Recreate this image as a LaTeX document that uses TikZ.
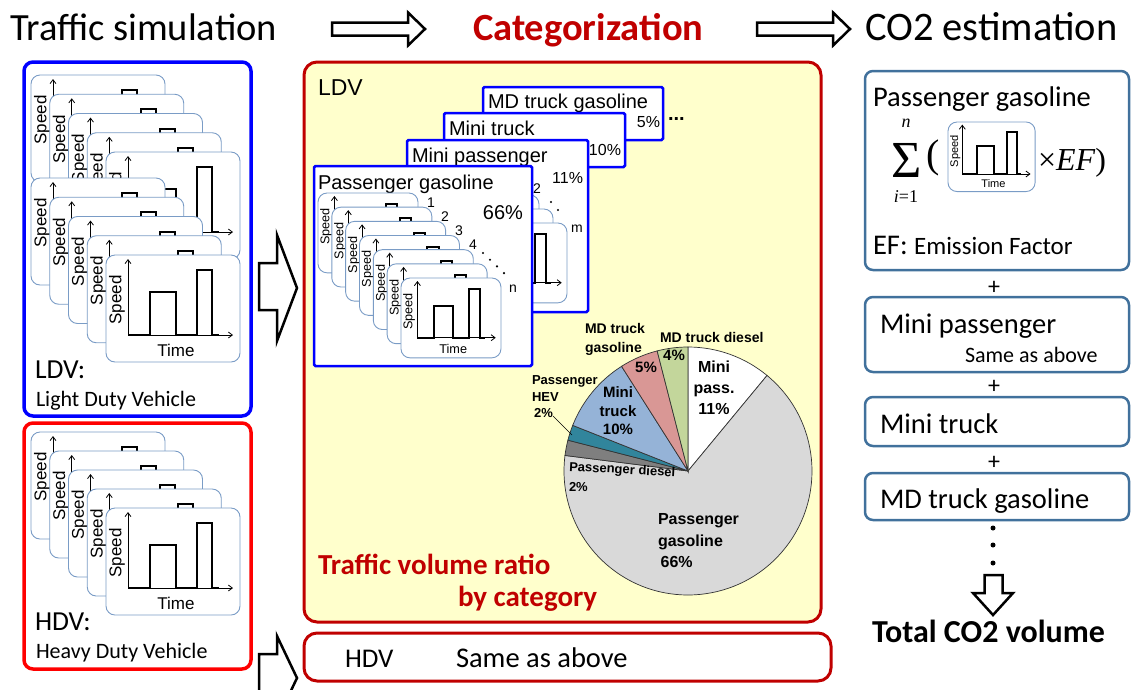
\documentclass[tikz,border=0pt]{standalone}
\usepackage[no-math]{fontspec}
\setmainfont{Carlito}
\newfontfamily\arialfont{Liberation Sans}
\newfontfamily\timesfont{Liberation Serif}
\usetikzlibrary{arrows.meta}
\definecolor{ldvblue}{HTML}{0000FF}
\definecolor{hdvred}{HTML}{FF0000}
\definecolor{catred}{HTML}{C00000}
\definecolor{catfill}{HTML}{FFFFCC}
\definecolor{cardline}{HTML}{7A9CC6}
\definecolor{estline}{HTML}{41719C}
\definecolor{pgasgray}{HTML}{D9D9D9}
\definecolor{pdslgray}{HTML}{7F7F7F}
\definecolor{hevteal}{HTML}{31859C}
\definecolor{mtrkblue}{HTML}{95B3D7}
\definecolor{mdgaspink}{HTML}{D99795}
\definecolor{mddslgreen}{HTML}{C3D69B}

% speed-time chart card without labels, top left corner at (#1,#2), scaled by #3
\newcommand{\speedchart}[3]{%
  \begin{scope}[shift={(#1,#2)}, scale=#3, transform shape]
    \draw[cardframe] (0,0) rectangle (134,107);
    \draw[axisline] (22,80) -- (22,4);
    \draw[axisline] (22,80) -- (127,80);
    \draw[profile] (22,80) -- (44,80) -- (44,37) -- (70,37) -- (70,80) -- (91,80) -- (91,15) -- (106,15) -- (106,80) -- (113,80);
  \end{scope}}
% same card with its axis labels
\newcommand{\speedcard}[3]{%
  \speedchart{#1}{#2}{#3}
  \begin{scope}[shift={(#1,#2)}, scale=#3, transform shape]
    \node[cardtext, rotate=90] (spd) at (11,45) {Speed};
    \node[cardtext] (tim) at (70,95) {Time};
  \end{scope}}

\begin{document}
\begin{tikzpicture}[x=1pt, y=-1pt,
    every node/.style={inner sep=0pt, outer sep=0pt},
    heading/.style={anchor=base west, font=\fontsize{38.5}{38.5}\selectfont},
    cardframe/.style={draw=cardline, line width=0.9pt, fill=white, rounded corners=9pt},
    axisline/.style={line width=0.8pt, -{Straight Barb[length=4pt, width=6pt]}},
    profile/.style={line width=2pt},
    cardtext/.style={font=\arialfont\fontsize{17}{17}\selectfont},
    simframe/.style={line width=3.5pt, rounded corners=9pt, minimum width=227pt, anchor=north west},
    catframe/.style={draw=catred, line width=3pt, rounded corners=13pt, anchor=north west},
    catcard/.style={draw=ldvblue, line width=2.5pt, fill=white, rounded corners=1.5pt, anchor=north west},
    estbox/.style={draw=estline, line width=2.5pt, rounded corners=8pt, anchor=north west, minimum width=264pt},
    blockarrow/.style={draw, line width=2.5pt, fill=white, line join=miter},
    arialtext/.style={anchor=base west, font=\arialfont\fontsize{20}{20}\selectfont},
    smallnum/.style={anchor=base west, font=\arialfont\fontsize{14}{14}\selectfont},
    pielabel/.style={font=\arialfont\bfseries\fontsize{14}{19}\selectfont},
    pieslice/.style={draw=black!80, line width=0.7pt},
    esttext/.style={anchor=base west, font=\fontsize{28.5}{28.5}\selectfont},
    dot/.style={circle, fill, minimum size=#1}
]
\useasboundingbox (0,0) rectangle (1132,689);
\clip (0,0) rectangle (1132,689);

% Headings
\node[heading] (tsim) at (10,40) {Traffic simulation};
\node[heading, font=\bfseries\fontsize{38.5}{38.5}\selectfont, text=catred] (tcat) at (473,40) {Categorization};
\node[heading, font=\fontsize{40.5}{40.5}\selectfont] (tco2) at (865,40) {CO2 estimation};
\draw[blockarrow] (332,22.5) -- (408,22.5) -- (408,12.5) -- (425,29) -- (408,45.5) -- (408,35.5) -- (332,35.5) -- cycle;
\draw[blockarrow] (757,22.5) -- (833,22.5) -- (833,12.5) -- (850,29) -- (833,45.5) -- (833,35.5) -- (757,35.5) -- cycle;

% Traffic simulation
\node[simframe, draw=ldvblue, minimum height=354pt] (ldvsim) at (24,62) {};
\node[simframe, draw=hdvred, minimum height=246pt] (hdvsim) at (24,423) {};
\foreach \k in {0,...,4} {\speedcard{31+18.75*\k}{75+19.25*\k}{1}}
\foreach \k in {0,...,4} {\speedcard{31+18.75*\k}{178+19.25*\k}{1}}
\foreach \k in {0,...,4} {\speedcard{31+18.75*\k}{432+19*\k}{1}}
\node[anchor=base west, font=\fontsize{27.5}{27.5}\selectfont] (ldvname) at (35,378) {LDV:};
\node[anchor=base west, font=\fontsize{22}{22}\selectfont] (ldvlong) at (36,406) {Light Duty Vehicle};
\node[anchor=base west, font=\fontsize{27.5}{27.5}\selectfont] (hdvname) at (35,630) {HDV:};
\node[anchor=base west, font=\fontsize{22}{22}\selectfont] (hdvlong) at (36,658) {Heavy Duty Vehicle};

\draw[blockarrow] (259,263) -- (277,263) -- (277,235) -- (297,288) -- (277,341) -- (277,310) -- (259,310) -- cycle;
\draw[blockarrow] (259,654) -- (277,654) -- (277,636) -- (297,678) -- (277,720) -- (277,700) -- (259,700) -- cycle;

% Categorization
\node[catframe, fill=catfill, minimum width=517pt, minimum height=560pt] (ldvcat) at (304,62) {};
\node[catframe, fill=white, minimum width=527pt, minimum height=48pt] (hdvcat) at (304,633) {};
\node[arialtext, font=\arialfont\fontsize{23}{23}\selectfont] (ldvtag) at (318,95) {LDV};
\node[anchor=base west, font=\fontsize{27}{27}\selectfont] (hdvtag) at (345,667) {HDV};
\node[anchor=base west, font=\fontsize{28.5}{28.5}\selectfont] (hdvsame) at (456,667) {Same as above};

\node[catcard, minimum width=180pt, minimum height=53pt] (mdgas) at (483,87) {};
\node[arialtext] (mdgasname) at (488,108) {MD truck gasoline};
\node[arialtext, anchor=base east, font=\arialfont\fontsize{16}{16}\selectfont] (mdgaspct) at (660,127) {5\%};
\node[anchor=base west, font=\arialfont\bfseries\fontsize{20}{20}\selectfont] (more) at (668,120) {...};

\node[catcard, minimum width=181pt, minimum height=54pt] (mtrk) at (444,113) {};
\node[arialtext] (mtrkname) at (449,135) {Mini truck};
\node[arialtext, anchor=base east, font=\arialfont\fontsize{16}{16}\selectfont] (mtrkpct) at (621,155) {10\%};

\node[catcard, minimum width=181pt, minimum height=172pt] (mpas) at (407,140) {};
\node[arialtext] (mpasname) at (412,162) {Mini passenger};
\node[arialtext, anchor=base east, font=\arialfont\fontsize{16}{16}\selectfont] (mpaspct) at (583,183) {11\%};
\foreach \k in {0,...,2} {\speedchart{439+14*\k}{195+14*\k}{0.746}}
\node[smallnum] (mpas2) at (533,193) {2};
\node[dot=2.4pt] (mpasdot1) at (551,202) {};
\node[dot=2.4pt] (mpasdot2) at (558,210) {};
\node[smallnum] (mpasm) at (571,232) {m};

\node[catcard, minimum width=218pt, minimum height=200pt] (pgas) at (314,166) {};
\node[arialtext] (pgasname) at (318,189) {Passenger gasoline};
\node[arialtext, anchor=base east] (pgaspct) at (523,219) {66\%};
\foreach \k in {0,...,6} {\speedcard{318+13.83*\k}{193+14.17*\k}{0.746}}
\foreach \k in {1,...,4} {\node[smallnum] (pgasnum\k) at (413+14*\k,193+14*\k) {\k};}
\foreach \k in {0,...,3} {\node[dot=2.4pt] (pgasdot\k) at (483+7*\k,253+6.7*\k) {};}
\node[smallnum] (pgasn) at (509,292) {n};

% Pie chart of traffic volume ratio
\coordinate (pie) at (688,471);
\foreach \s/\e/\c in {-90/-50.4/white, -50.4/187.2/pgasgray, -165.6/-172.8/pdslgray,
    -158.4/-165.6/hevteal, -122.4/-158.4/mtrkblue, -104.4/-122.4/mdgaspink, -90/-104.4/mddslgreen}
  {\filldraw[pieslice, fill=\c] (pie) -- ++(\s:124) arc[start angle=\s, end angle=\e, radius=124] -- cycle;}
\node[pielabel, align=center, font=\arialfont\bfseries\fontsize{16}{21}\selectfont] (minipasslbl) at (714,388) {Mini\\pass.\\11\%};
\node[pielabel, align=left, anchor=west, font=\arialfont\bfseries\fontsize{16}{21.5}\selectfont] (pgaslbl) at (658,541) {Passenger\\gasoline\\\,66\%};
\node[pielabel, align=center, font=\arialfont\bfseries\fontsize{15}{18.5}\selectfont] (mtrklbl) at (618,411) {Mini\\truck\\10\%};
\node[pielabel, anchor=base west, rotate=-3, font=\arialfont\bfseries\fontsize{13}{13}\selectfont] (pdsllbl) at (569,471) {Passenger diesel};
\node[pielabel, anchor=base west, font=\arialfont\bfseries\fontsize{13}{13}\selectfont] (pdslpct) at (569,491) {2\%};
\node[pielabel, align=left, anchor=west, font=\arialfont\bfseries\fontsize{13}{16.5}\selectfont] (hevlbl) at (532,397) {Passenger\\HEV\\\,2\%};
\coordinate (hevtail) at (553,416);
\coordinate (hevedge) at (572,435);
\draw[line width=0.6pt] (hevtail) -- (hevedge);
\node[pielabel, align=left, anchor=west] (mdgaslbl) at (585,339) {MD truck\\gasoline};
\node[pielabel, font=\arialfont\bfseries\fontsize{15}{15}\selectfont] (mdgaspie) at (646,367) {5\%};
\node[pielabel, anchor=west] (mddsllbl) at (660,337) {MD truck diesel};
\node[pielabel, font=\arialfont\bfseries\fontsize{15}{15}\selectfont] (mddslpie) at (674,355) {4\%};

\node[anchor=base west, font=\bfseries\fontsize{29}{29}\selectfont, text=catred] (ratio1) at (318,574) {Traffic volume ratio};
\node[anchor=base west, font=\bfseries\fontsize{29}{29}\selectfont, text=catred] (ratio2) at (458,606) {by category};

% CO2 estimation
\node[estbox, minimum height=199pt] (estpgas) at (865,71) {};
\node[esttext] (estpgasname) at (873,106) {Passenger gasoline};
\node[font=\timesfont\fontsize{52}{52}\selectfont] (esum) at (907,160) {Σ};
\node[font=\timesfont\itshape\fontsize{18}{18}\selectfont] (esumtop) at (906,123) {n};
\node[font=\timesfont\fontsize{18}{18}\selectfont] (esumbot) at (906,197) {\textit{i}=1};
\node[font=\timesfont\fontsize{40}{40}\selectfont] (elpar) at (933,158) {(};
\speedcard{948}{122}{0.65}
\node[anchor=base west, font=\timesfont\fontsize{32}{32}\selectfont] (eef) at (1038,170) {×\textit{EF})};
\node[esttext] (eefname) at (873,254) {EF: {\fontsize{25}{25}\selectfont Emission Factor}};

\node[font=\fontsize{24}{24}\selectfont] (plus1) at (994,288) {+};
\node[estbox, minimum height=75pt] (estmpas) at (865,297) {};
\node[esttext] (estmpasname) at (880,333) {Mini passenger};
\node[esttext, font=\fontsize{22}{22}\selectfont] (estmpassame) at (965,362) {Same as above};
\node[font=\fontsize{24}{24}\selectfont] (plus2) at (994,387) {+};
\node[estbox, minimum height=49pt] (estmtrk) at (865,397) {};
\node[esttext] (estmtrkname) at (880,433) {Mini truck};
\node[font=\fontsize{24}{24}\selectfont] (plus3) at (994,463) {+};
\node[estbox, minimum height=47pt] (estmdgas) at (865,473) {};
\node[esttext] (estmdgasname) at (880,508) {MD truck gasoline};
\foreach \y in {528,545,563} {\node[dot=5pt] (estdot\y) at (993,\y) {};}
\draw[blockarrow] (984.5,575) -- (1002.5,575) -- (1002.5,593) -- (1013,593) -- (993,615) -- (973,593) -- (984.5,593) -- cycle;
\node[anchor=base west, font=\bfseries\fontsize{32}{32}\selectfont] (total) at (872,642) {Total CO2 volume};

\end{tikzpicture}
\end{document}
